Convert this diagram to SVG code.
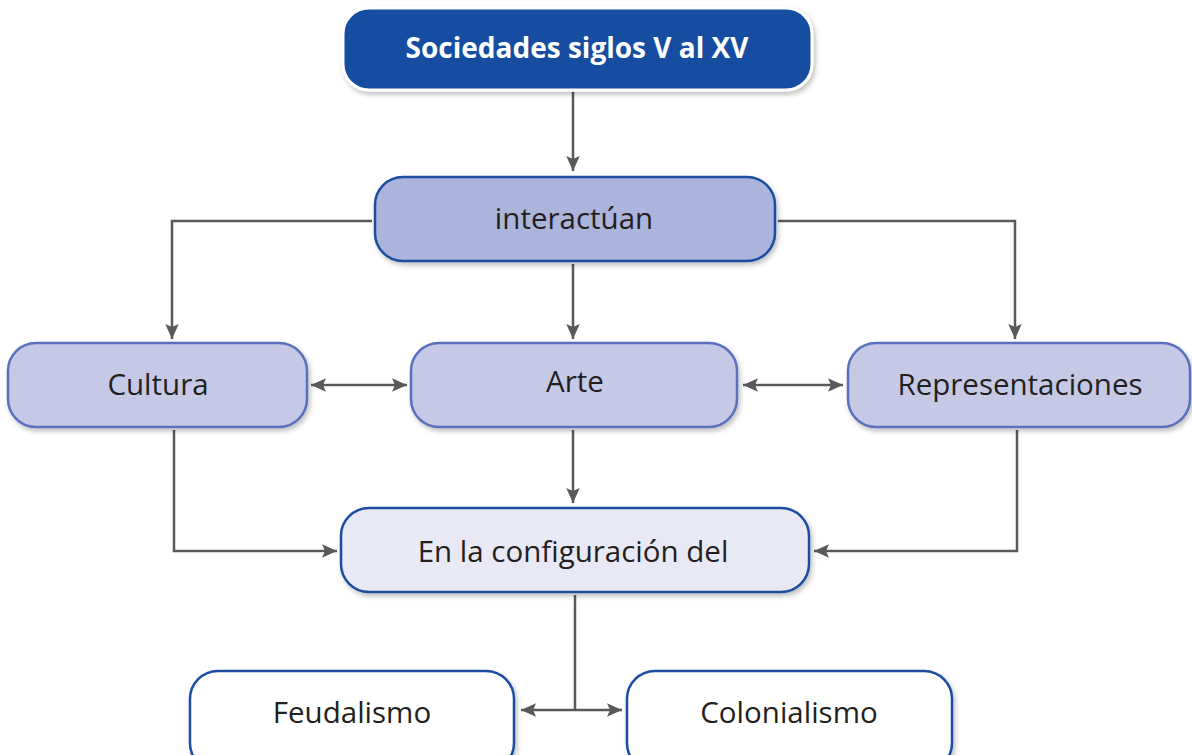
<svg xmlns="http://www.w3.org/2000/svg" width="1192" height="755" viewBox="0 0 1192 755">
<style>
.t{font-family:"Open Sans","Noto Sans",sans-serif;font-size:29.5px;fill:#231f20;text-anchor:middle}
.b{font-weight:bold;fill:#fff;font-size:28px}
.c{fill:none;stroke:#58595b;stroke-width:2.5}
</style>
<defs>
<filter id="sh" x="-10%" y="-10%" width="120%" height="130%">
<feDropShadow dx="2" dy="3" stdDeviation="2.5" flood-color="#000" flood-opacity="0.25"/>
</filter>
<marker id="a" viewBox="0 0 10 10" refX="10" refY="5" markerWidth="6" markerHeight="6" orient="auto-start-reverse" markerUnits="strokeWidth">
<path d="M0,0.5 L10,5 L0,9.5 L2,5 z" fill="#58595b"/>
</marker>
</defs>
<g id="connectors">
<path class="c" d="M573,92 V171" marker-end="url(#a)"/>
<path class="c" d="M372,221 H172 V339" marker-end="url(#a)"/>
<path class="c" d="M778,221 H1015 V339" marker-end="url(#a)"/>
<path class="c" d="M573,264 V339" marker-end="url(#a)"/>
<path class="c" d="M311,385 H407" marker-start="url(#a)" marker-end="url(#a)"/>
<path class="c" d="M743,385 H843" marker-start="url(#a)" marker-end="url(#a)"/>
<path class="c" d="M573,430 V503" marker-end="url(#a)"/>
<path class="c" d="M174,430 V551 H337" marker-end="url(#a)"/>
<path class="c" d="M1017,430 V551 H814" marker-end="url(#a)"/>
<path class="c" d="M575,595 V710"/>
<path class="c" d="M521,710 H622" marker-start="url(#a)" marker-end="url(#a)"/>
</g>
<g id="n-sociedades">
<rect x="343" y="8" width="469" height="82" rx="26" fill="#134ea0" stroke="#fff" stroke-width="3" filter="url(#sh)"/>
<text class="t b" x="577" y="58">Sociedades siglos V al XV</text>
</g>
<g id="n-interactuan">
<rect x="375" y="177" width="400" height="84" rx="28" fill="#abb4da" stroke="#1a4ea0" stroke-width="2.5" filter="url(#sh)"/>
<text class="t" x="574" y="229">interactúan</text>
</g>
<g id="n-cultura">
<rect x="8" y="343" width="299" height="84" rx="28" fill="#c5c9e6" stroke="#5a70bc" stroke-width="2.5" filter="url(#sh)"/>
<text class="t" x="158" y="395">Cultura</text>
</g>
<g id="n-arte">
<rect x="411" y="343" width="326" height="84" rx="28" fill="#c5c9e6" stroke="#5a70bc" stroke-width="2.5" filter="url(#sh)"/>
<text class="t" x="575" y="392">Arte</text>
</g>
<g id="n-representaciones">
<rect x="848" y="343" width="342" height="84" rx="28" fill="#c5c9e6" stroke="#5a70bc" stroke-width="2.5" filter="url(#sh)"/>
<text class="t" x="1020" y="395">Representaciones</text>
</g>
<g id="n-configuracion">
<rect x="341" y="508" width="468" height="84" rx="28" fill="#e8e9f5" stroke="#1a4ea0" stroke-width="2.5" filter="url(#sh)"/>
<text class="t" x="573" y="562">En la configuración del</text>
</g>
<g id="n-feudalismo">
<rect x="190" y="671" width="324" height="100" rx="28" fill="#fff" stroke="#1a4ea0" stroke-width="2.5" filter="url(#sh)"/>
<text class="t" x="352" y="723">Feudalismo</text>
</g>
<g id="n-colonialismo">
<rect x="627" y="671" width="325" height="100" rx="28" fill="#fff" stroke="#1a4ea0" stroke-width="2.5" filter="url(#sh)"/>
<text class="t" x="789" y="723">Colonialismo</text>
</g>
</svg>
